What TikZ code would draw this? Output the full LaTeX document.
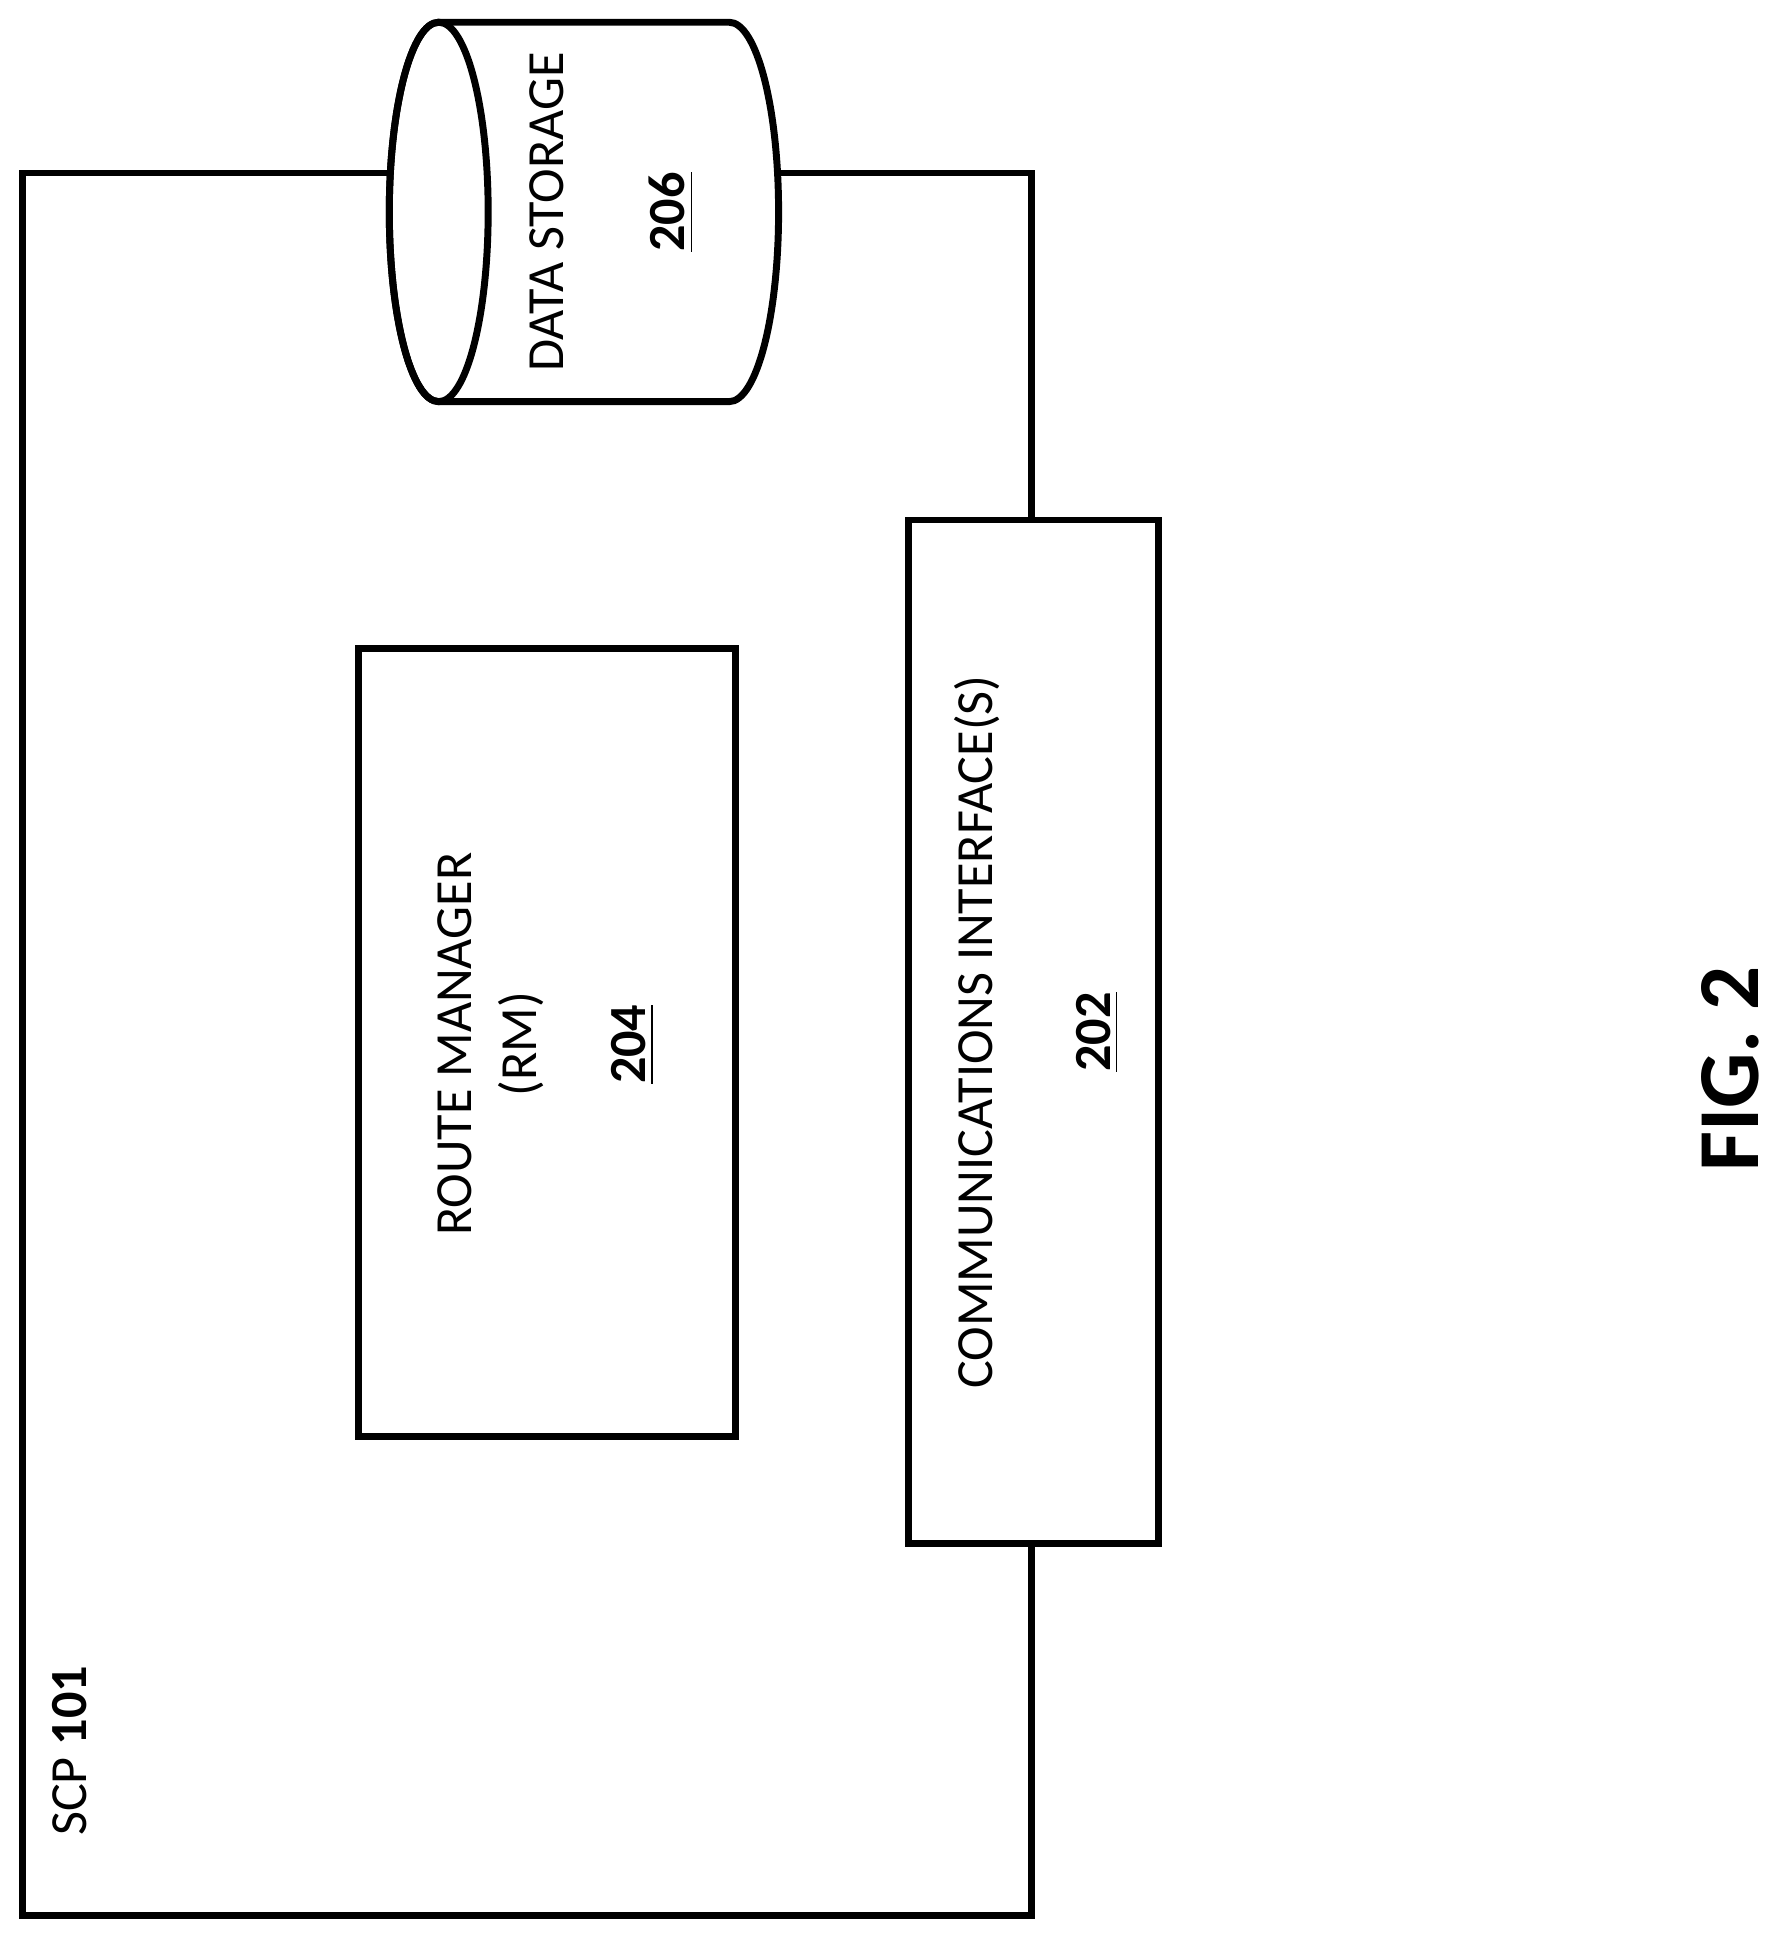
\documentclass[tikz,border=0pt]{standalone}
\usepackage{fontspec}
\setmainfont{Carlito}
\usetikzlibrary{positioning}
\begin{document}
\begin{tikzpicture}[x=0.01cm, y=-0.01cm, line width=1.6pt,
    lbl/.style = {rotate=90, align=center, font=\fontsize{12}{15}\selectfont},
    box/.style = {draw, fill=white}]
    \useasboundingbox (0,0) rectangle (1440,1573);
    % SCP outline
    \draw (18,140) rectangle (835,1550);
    \node[lbl, anchor=south west] (scp) at (85,1500) {SCP \textbf{101}};

    % data storage cylinder
    \coordinate (dsL) at (355,171.5);
    \coordinate (dsR) at (590,171.5);
    \filldraw[fill=white] (355,18) -- (590,18) arc[start angle=-90, end angle=90, x radius=40, y radius=153.5]
        -- (355,325) arc[start angle=90, end angle=270, x radius=40, y radius=153.5] -- cycle;
    \draw (dsL) ellipse[x radius=40, y radius=153.5];
    \node[lbl] (ds) at (495,171.5) {DATA STORAGE\\[13pt]\underline{\textbf{206}}};

    % route manager
    \node[box, minimum width=6.37cm, minimum height=3.05cm, rotate=90] (rm) at (442.5,843.5) {};
    \node[lbl] (rmtext) at (442,845) {ROUTE MANAGER\\(RM)\\[10pt]\underline{\textbf{204}}};

    % communications interface
    \node[box, minimum width=8.28cm, minimum height=2.02cm, rotate=90] (ci) at (836,835) {};
    \node[lbl] (citext) at (839,835) {COMMUNICATIONS INTERFACE(S)\\[12pt]\underline{\textbf{202}}};

    \node[rotate=90, font=\fontsize{20}{24}\selectfont\bfseries] (fig) at (1400,865) {FIG. 2};
\end{tikzpicture}
\end{document}
